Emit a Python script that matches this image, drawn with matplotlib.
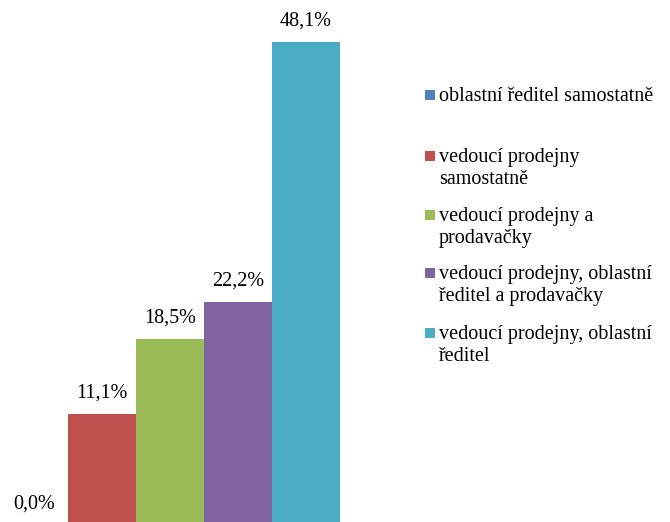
import matplotlib.pyplot as plt
from matplotlib.patches import Rectangle

plt.rcParams['font.family'] = ['Liberation Serif', 'DejaVu Serif']

categories = [
    "oblastní ředitel samostatně",
    "vedoucí prodejny\nsamostatně",
    "vedoucí prodejny a\nprodavačky",
    "vedoucí prodejny, oblastní\nředitel a prodavačky",
    "vedoucí prodejny, oblastní\nředitel",
]
values = [0.0, 11.1, 18.5, 22.2, 48.1]
colors = ["#4F81BD", "#C0504D", "#9BBB59", "#8064A2", "#4BACC6"]

W, H = 670, 522
fig = plt.figure(figsize=(W / 100, H / 100), dpi=100)
ax = fig.add_axes([0, 0, 340 / W, 1])

x = list(range(len(values)))
ax.bar(x, values, width=1.0, color=colors, align='center')
ax.set_xlim(-0.5, 4.5)
ax.set_ylim(0.34, 52.28)
ax.axis('off')

for xi, v in zip(x, values):
    lbl = f"{v:.1f}".replace('.', ',') + '%'
    ax.annotate(lbl, (xi, v), xytext=(0, 21), textcoords='offset pixels',
                ha='center', va='center', fontsize=14.5, color='#000000',
                annotation_clip=False)

# legend drawn by hand: marker squares aligned with the first text line
legend_y = [95, 156, 215, 273, 333]
for yl, lab, c in zip(legend_y, categories, colors):
    fig.add_artist(Rectangle((425 / W, 1 - (yl + 5) / H), 10 / W, 10 / H,
                             transform=fig.transFigure, color=c, lw=0))
    fig.text(439 / W, 1 - (yl - 8) / H, lab, ha='left', va='top',
             fontsize=14.5, linespacing=1.2, color='#000000')

fig.savefig('out.png', dpi=100)
